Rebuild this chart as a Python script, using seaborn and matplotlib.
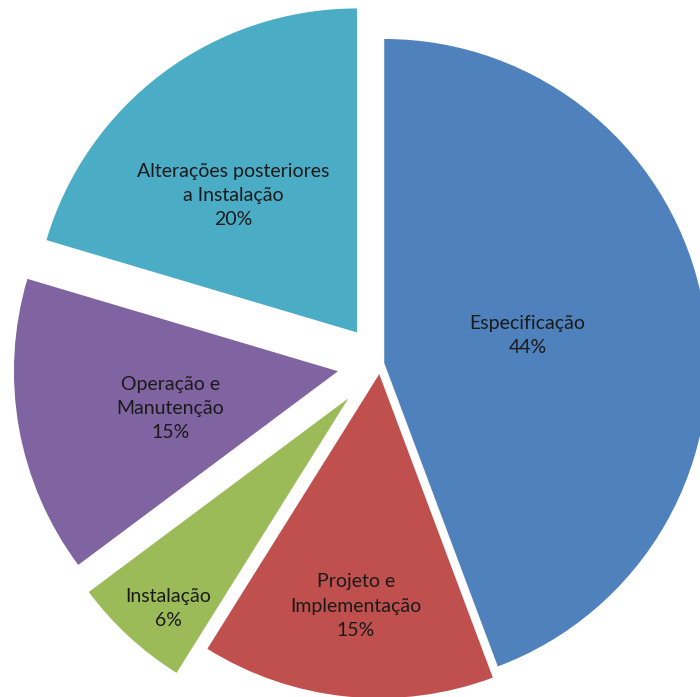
import numpy as np
import matplotlib.pyplot as plt
import seaborn as sns

# Dados
categorias = ['Especificação', 'Projeto e\nImplementação', 'Instalação',
              'Operação e\nManutenção', 'Alterações posteriores\na Instalação']
percentuais = [44.3, 14.6, 5.9, 14.8, 20.4]
cores = ['#4F81BD', '#C0504D', '#9BBB59', '#8064A2', '#4BACC6']

# Layout (pixels)
explosao = [4, 10.5, 47, 43, 39]
dist_rotulo = [0.45, 0.72, 0.855, 0.53, 0.57]
ajuste_ang = [0.5, 0, 2, 2.5, 5.5]

sns.set_theme(style='white')
plt.rcParams['font.family'] = ['Lato', 'DejaVu Sans']

fig = plt.figure(figsize=(7, 6.97), dpi=100)
ax = fig.add_axes([0, 0, 1, 1])

raio = 324
centro = (380.3, 697 - 363.7)
wedges, _ = ax.pie(percentuais, colors=cores, explode=explosao, radius=raio,
                   center=centro, startangle=90, counterclock=False,
                   wedgeprops=dict(linewidth=0))

for w, cat, p, d, da in zip(wedges, categorias, percentuais, dist_rotulo, ajuste_ang):
    ang = np.deg2rad((w.theta1 + w.theta2) / 2 + da)
    x = w.center[0] + d * raio * np.cos(ang)
    y = w.center[1] + d * raio * np.sin(ang)
    ax.text(x, y, f'{cat}\n{p:.0f}%', ha='center', va='center', fontsize=14,
            color='#1a1a1a', linespacing=1.52)

ax.set_xlim(0, 700)
ax.set_ylim(0, 697)
ax.set_aspect('auto')
ax.axis('off')

fig.savefig('out.png', dpi=100)
